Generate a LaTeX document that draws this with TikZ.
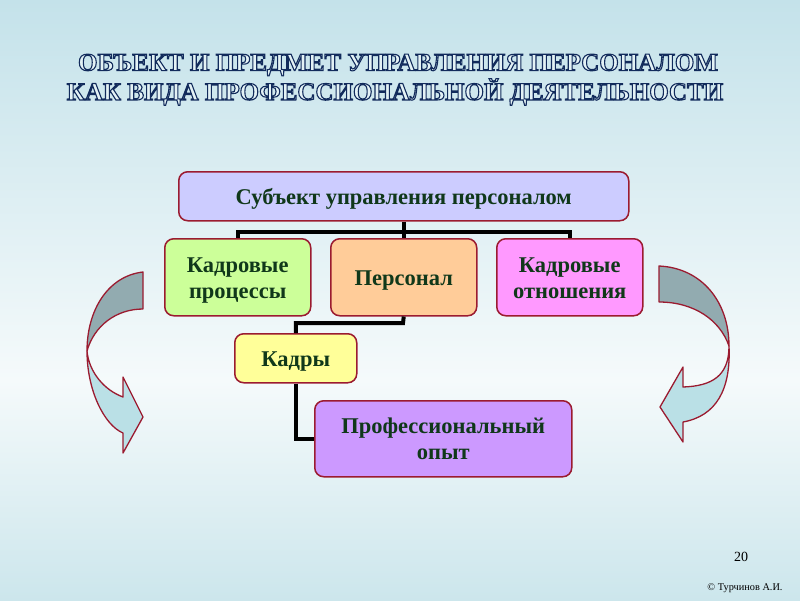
\documentclass[tikz,border=0pt]{standalone}
\usepackage{fontspec}
\setmainfont{Liberation Serif}
\definecolor{bgtop}{HTML}{C4E2EA}
\definecolor{bgmid}{HTML}{F5FAFB}
\definecolor{bgbot}{HTML}{CCE6EC}
\definecolor{boxred}{HTML}{9B1B30}
\definecolor{txtgreen}{HTML}{10381A}
\definecolor{titlefill}{HTML}{E4F2F5}
\definecolor{arrdark}{HTML}{92ABB0}
\definecolor{arrlight}{HTML}{BAE0E6}
\definecolor{cLav}{HTML}{CCCCFF}
\definecolor{cGreen}{HTML}{CCFF99}
\definecolor{cPeach}{HTML}{FFCC99}
\definecolor{cPink}{HTML}{FF99FF}
\definecolor{cYellow}{HTML}{FFFF99}
\definecolor{cViolet}{HTML}{CC99FF}
\newcommand\outlinetext[1]{\special{pdf:literal direct 2 Tr 1.1 w 0.07 0.17 0.36 RG}#1\special{pdf:literal direct 0 Tr}}
\newcommand\bt[1]{\raisebox{-3pt}[\height][\depth]{\begin{tabular}{@{}c@{}}#1\end{tabular}}}
\begin{document}
\begin{tikzpicture}[x=1pt,y=-1pt,
  box/.style={draw=boxred, line width=1.5pt, rounded corners=9pt, anchor=north west,
    font=\bfseries\fontsize{22.5}{26}\selectfont, text=txtgreen, inner sep=0pt},
  conn/.style={line width=4pt, black},
  arr/.style={draw=boxred, line width=1.3pt, line join=round},
  ttl/.style={font=\bfseries\fontsize{25}{27}\selectfont, text=titlefill}]
\path[use as bounding box] (0,0) rectangle (800,600);
\shade[top color=bgtop, bottom color=bgmid] (0,0) rectangle (800,380);
\shade[top color=bgmid, bottom color=bgbot] (0,380) rectangle (800,600);

% title (outlined)
\node[ttl] (t1) at (398,65) {\outlinetext{ОБЪЕКТ И ПРЕДМЕТ УПРАВЛЕНИЯ ПЕРСОНАЛОМ}};
\node[ttl] (t2) at (395,92) {\outlinetext{КАК ВИДА ПРОФЕССИОНАЛЬНОЙ ДЕЯТЕЛЬНОСТИ}};

% boxes
\node[box, fill=cLav, minimum width=450, minimum height=49] (sub) at (178,171) {\bt{Субъект управления персоналом}};
\node[box, fill=cGreen, minimum width=146, minimum height=77] (kp) at (164,238) {\bt{Кадровые\\процессы}};
\node[box, fill=cPeach, minimum width=146, minimum height=77] (pers) at (330,238) {\bt{Персонал}};
\node[box, fill=cPink, minimum width=146, minimum height=77] (ko) at (496,238) {\bt{Кадровые\\отношения}};
\node[box, fill=cYellow, minimum width=122, minimum height=49] (kadry) at (234,333) {\bt{Кадры}};
\node[box, fill=cViolet, minimum width=257, minimum height=76] (prof) at (314,400) {\bt{Профессиональный\\опыт}};

% connectors
\coordinate (j1) at (403,232);
\coordinate (j2) at (403,323);
\draw[conn] (sub.south) -- (pers.north);
\draw[conn] (kp.north) |- (j1) -| (ko.north);
\draw[conn] (pers.south) -- (j2) -| (kadry.north);
\draw[conn] (kadry.south) |- (prof.west);

% left curved arrow
\filldraw[arr, fill=arrdark] (143,272) .. controls (108,276) and (87,310) .. (87,351)
  .. controls (94,326) and (116,309) .. (143,309) -- cycle;
\filldraw[arr, fill=arrlight] (87,351) .. controls (87,390) and (104,425) .. (123,433)
  -- (123,453) -- (143,417) -- (123,377) -- (123,397)
  .. controls (104,390) and (89,372) .. (87,351) -- cycle;

% right curved arrow
\filldraw[arr, fill=arrdark] (659,266) .. controls (702,268) and (729,302) .. (729,346)
  .. controls (720,320) and (694,302) .. (659,302) -- cycle;
\filldraw[arr, fill=arrlight] (729,346) .. controls (729,376) and (712,386) .. (683,387)
  -- (683,367) -- (660,407) -- (683,442) -- (683,422)
  .. controls (716,416) and (731,390) .. (729,346) -- cycle;

% footer
\node[font=\fontsize{14}{16}\selectfont] (pg) at (741,557) {20};
\node[font=\fontsize{10.3}{12}\selectfont] (cp) at (745,588) {© Турчинов А.И.};
\end{tikzpicture}
\end{document}
